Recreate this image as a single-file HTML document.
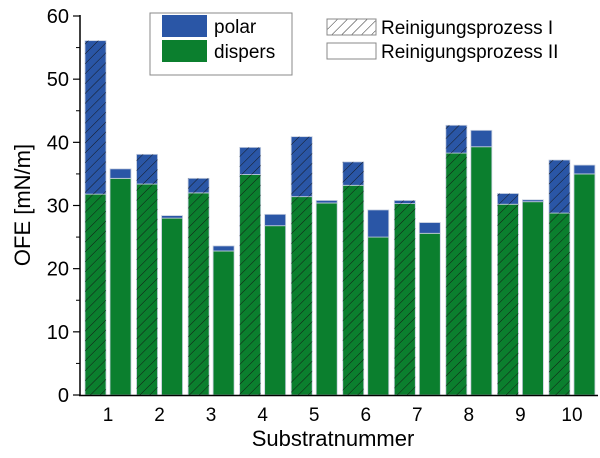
<!DOCTYPE html>
<html><head><meta charset="utf-8"><style>
body{margin:0;background:#fff}
svg{display:block;font-family:"Liberation Sans",sans-serif}
</style></head><body>
<svg id="c" width="600" height="458" viewBox="0 0 600 458">
<defs>
<pattern id="hatch" patternUnits="userSpaceOnUse" width="7" height="7" patternTransform="rotate(45)">
<line x1="0" y1="0" x2="0" y2="7" stroke="#111" stroke-width="0.9"/>
</pattern>
</defs>
<g id="bars"></g>
<g id="axes"></g>
<g>
<rect x="150" y="13" width="142" height="62" fill="#fff" stroke="#888" stroke-width="1"/>
<rect x="162" y="15" width="45" height="22" fill="#2a56a6"/>
<text x="214" y="33" font-size="19">polar</text>
<rect x="162" y="40" width="45" height="22" fill="#0b7f2e"/>
<text x="214" y="58" font-size="19">dispers</text>
</g>
<g>
<rect x="327" y="19" width="49" height="16" fill="url(#hatch)" stroke="#888"/>
<text x="381" y="34" font-size="19">Reinigungsprozess I</text>
<rect x="327" y="43" width="49" height="16" fill="#fff" stroke="#888"/>
<text x="381" y="58" font-size="19">Reinigungsprozess II</text>
</g>
<text x="333" y="446" font-size="22" text-anchor="middle">Substratnummer</text>
<text transform="translate(30,205) rotate(-90)" font-size="22" text-anchor="middle">OFE [mN/m]</text>
</svg>
<script>
const categories = ["1","2","3","4","5","6","7","8","9","10"];
const totalI = [56.1,38.1,34.3,39.2,40.9,36.9,30.8,42.7,31.9,37.2];
const dispersI = [31.8,33.4,32.0,34.9,31.4,33.2,30.3,38.3,30.2,28.8];
const totalII = [35.8,28.4,23.6,28.6,30.8,29.3,27.3,41.9,30.9,36.4];
const dispersII = [34.3,28.0,22.8,26.8,30.4,25.0,25.6,39.3,30.6,35.0];
const yTicks = [0,10,20,30,40,50,60];

const NS="http://www.w3.org/2000/svg";
const y0=395, yTop=16, yMax=60;
const y = v => y0 - v*(y0-yTop)/yMax;
const groupX = i => 85 + i*51.55;
const bw = 21;
const bars=document.getElementById('bars');
const axes=document.getElementById('axes');
function mk(tag,attrs,parent){const e=document.createElementNS(NS,tag);for(const k in attrs)e.setAttribute(k,attrs[k]);parent.appendChild(e);return e;}
function bar(x,top,bot,fill,hatch,parent){
  const r=mk('rect',{x:x,y:y(top),width:bw,height:y(bot)-y(top),fill:fill,stroke:'#c8d0e0','stroke-width':0.8},parent);
  if(hatch) mk('rect',{x:x,y:y(top),width:bw,height:y(bot)-y(top),fill:'url(#hatch)'},parent);
  return r;
}
categories.forEach((c,i)=>{
  const g=mk('g',{},bars);
  
  
  const x1=groupX(i), x2=groupX(i)+bw+4;
  const a=bar(x1,dispersI[i],0,'#0b7f2e',true,g);
  
  
  const b=bar(x1,totalI[i],dispersI[i],'#2a56a6',true,g);
  
  
  const d=bar(x2,dispersII[i],0,'#0b7f2e',false,g);
  
  
  const e=bar(x2,totalII[i],dispersII[i],'#2a56a6',false,g);
  
  
  const t=mk('text',{x:x1+bw+2,y:421,'font-size':19,'text-anchor':'middle'},axes);
  t.textContent=c;
  
  
});
const ya=mk('line',{x1:80,y1:15,x2:80,y2:y0+1,stroke:'#000','stroke-width':1.5},axes);


const xa=mk('line',{x1:79,y1:y0+0.5,x2:598,y2:y0+0.5,stroke:'#000','stroke-width':1.5},axes);


yTicks.forEach(v=>{
  mk('line',{x1:73,y1:y(v),x2:80,y2:y(v),stroke:'#000','stroke-width':1.2},axes);
  if(v<60) mk('line',{x1:76,y1:y(v+5),x2:80,y2:y(v+5),stroke:'#000','stroke-width':1},axes);
  const t=mk('text',{x:69,y:y(v)+7,'font-size':20,'text-anchor':'end'},axes);
  t.textContent=v;
  
  
});
</script>
</body></html>
